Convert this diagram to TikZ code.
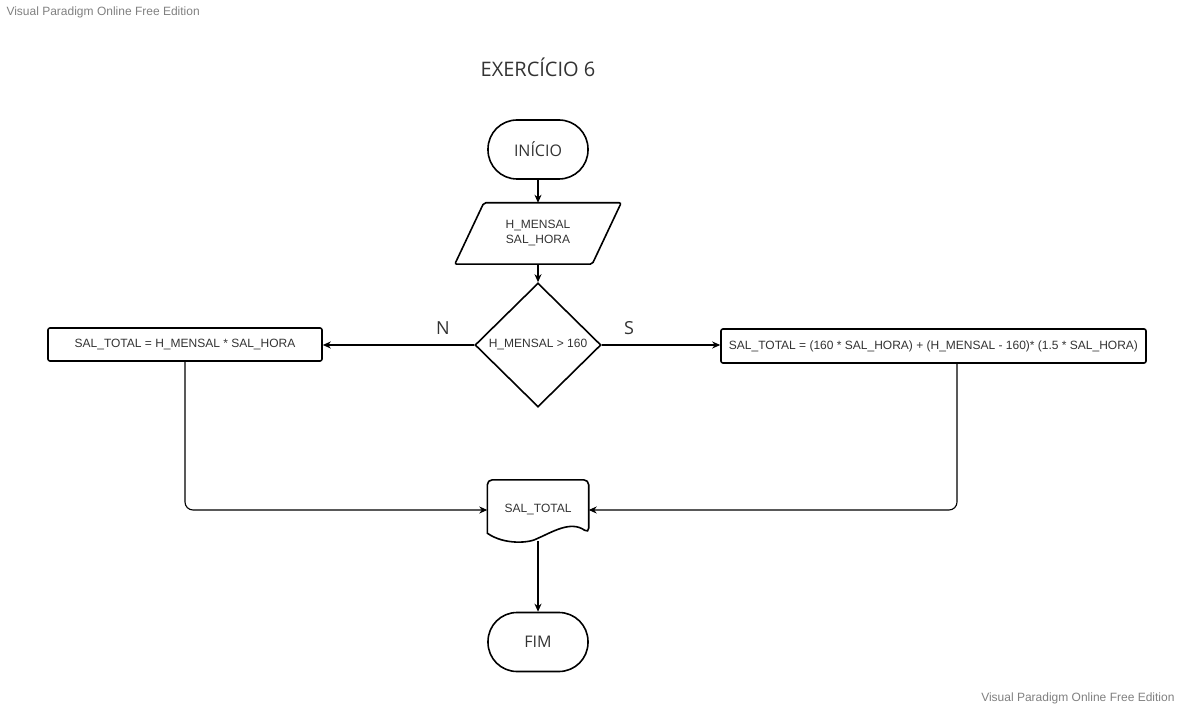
\documentclass[tikz,border=0pt]{standalone}
\usepackage{fontspec}
\setmainfont{Liberation Sans}
\newfontfamily\ui{Open Sans}
\usetikzlibrary{shapes.geometric,arrows.meta,calc}
\definecolor{txt}{HTML}{333333}
\definecolor{wm}{HTML}{808080}
\tikzset{
  shp/.style={line width=1.6pt, draw=black},
  term/.style={shp, rectangle, rounded corners=29pt, minimum width=100pt, minimum height=59pt, inner sep=0pt, font=\ui\fontsize{16}{19}\selectfont, text=txt},
  procbox/.style={shp, rectangle, rounded corners=2pt, inner sep=0pt, font=\fontsize{12}{14}\selectfont, text=txt},
  conn/.style={line width=1.1pt, -{Stealth[length=8pt,width=7pt,inset=2.5pt]}},
  lbl/.style={font=\ui\fontsize{18}{20}\selectfont, text=txt},
  wmark/.style={font=\fontsize{12}{14}\selectfont, text=wm}
}
\begin{document}
\begin{tikzpicture}[x=1pt,y=-1pt]
\useasboundingbox (0,0) rectangle (1180,708);
\node[wmark, anchor=west] (wm1) at (3,12) {Visual Paradigm Online Free Edition};
\node[wmark, anchor=east] (wm2) at (1178,698) {Visual Paradigm Online Free Edition};
\node[font=\ui\fontsize{20}{23}\selectfont, text=txt] (title) at (538,67) {EXERCÍCIO 6};

\node[term] (start) at (538,149.5) {INÍCIO};
\node[minimum width=137pt, minimum height=61pt, inner sep=0pt, align=center, font=\fontsize{12}{15}\selectfont, text=txt] (inp) at (538,233.5) {H\_MENSAL\\SAL\_HORA};
\draw[shp, rounded corners=2pt] ([xshift=14.5pt]inp.north west) -- ([xshift=14.5pt]inp.north east) -- ([xshift=-14.5pt]inp.south east) -- ([xshift=-14.5pt]inp.south west) -- cycle;

\node[shp, diamond, minimum width=126pt, minimum height=124pt, inner sep=0pt, font=\fontsize{12}{14}\selectfont, text=txt] (dec) at (538,345) {H\_MENSAL > 160};

\node[procbox, minimum width=274pt, minimum height=33pt] (lbox) at (185,344.5) {SAL\_TOTAL = H\_MENSAL * SAL\_HORA};
\node[procbox, minimum width=425pt, minimum height=34pt] (rbox) at (933.5,346) {SAL\_TOTAL = (160 * SAL\_HORA) + (H\_MENSAL - 160)* (1.5 * SAL\_HORA)};

\node[lbl] (nlab) at (443,328) {N};
\node[lbl] (slab) at (629,328) {S};

\node[minimum width=101pt, minimum height=60pt, inner sep=0pt, font=\fontsize{12}{14}\selectfont, text=txt] (doc) at (538,510) {SAL\_TOTAL};
\draw[shp, rounded corners=5pt] ($(doc.south west)+(0,-7)$) -- (doc.north west) -- (doc.north east) -- ($(doc.south east)+(0,-7)$) [sharp corners]
  .. controls ($(doc.south east)+(-18,-20)$) and ($(doc.south)+(14,-8)$) .. ($(doc.south)+(0,-2)$)
  .. controls ($(doc.south)+(-8,3)$) and ($(doc.south west)+(17,5)$) .. ($(doc.south west)+(0,-7)$) -- cycle;
\coordinate (docb) at ($(doc.south)+(0,1)$);

\node[term] (fim) at (538,642) {FIM};

\draw[conn] (start.south) -- (inp.north);
\draw[conn] (inp.south) -- (dec.north);
\draw[conn] (dec.west) -- (dec.west -| lbox.east);
\draw[conn] (dec.east) -- (dec.east -| rbox.west);
\draw[conn, rounded corners=8pt] (lbox.south) |- (doc.west);
\draw[conn, rounded corners=8pt] ([xshift=23.5pt]rbox.south) |- (doc.east);
\draw[conn] (docb) -- (fim.north);
\end{tikzpicture}
\end{document}
